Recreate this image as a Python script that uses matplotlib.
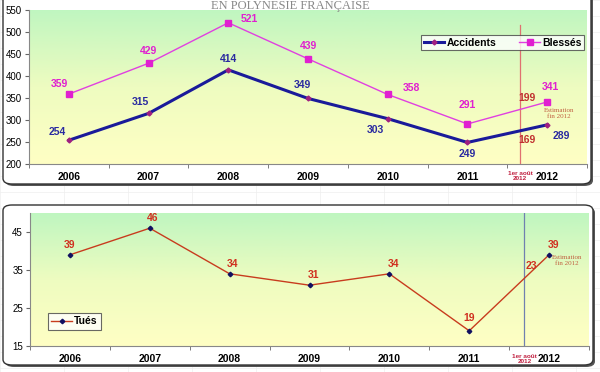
import numpy as np
import matplotlib
matplotlib.use("Agg")
import matplotlib.pyplot as plt
from matplotlib.patches import FancyBboxPatch
from matplotlib.colors import LinearSegmentedColormap

years = ["2006", "2007", "2008", "2009", "2010", "2011", "2012"]
accidents = [254, 315, 414, 349, 303, 249, 289]
blesses = [359, 429, 521, 439, 358, 291, 341]
tues = [39, 46, 34, 31, 34, 19, 39]
aout_accidents = 169
aout_blesses = 199
aout_tues = 23
aout_pos = 5.66

W, H = 600, 372
fig = plt.figure(figsize=(6, 3.72), dpi=100)
fig.patch.set_facecolor("white")

def fx(px):
    return px / W

def fy(py):
    return 1 - py / H

# faint spreadsheet grid in background
for gx in np.arange(0, W, 64):
    fig.add_artist(plt.Line2D([fx(gx), fx(gx)], [0, 1], color="#eeeeee", lw=0.5, zorder=0))
for gy in np.arange(0, H, 16):
    fig.add_artist(plt.Line2D([0, 1], [fy(gy), fy(gy)], color="#eeeeee", lw=0.5, zorder=0))

def frame(x0, y0, x1, y1):
    sh = FancyBboxPatch((fx(x0 + 2), fy(y1 + 2)), fx(x1 - x0), (y1 - y0) / H,
                        boxstyle="round,pad=0,rounding_size=0.015", transform=fig.transFigure,
                        facecolor="#555555", edgecolor="none", zorder=1)
    fig.add_artist(sh)
    p = FancyBboxPatch((fx(x0), fy(y1)), fx(x1 - x0), (y1 - y0) / H,
                       boxstyle="round,pad=0,rounding_size=0.015", transform=fig.transFigure,
                       facecolor="white", edgecolor="#333333", lw=1.0, zorder=2)
    fig.add_artist(p)

frame(3, -20, 591, 184)
frame(3, 205, 593, 365)

cmap = LinearSegmentedColormap.from_list("bg", ["#ffffc4", "#eefcc0", "#bff6c0"])
grad = np.linspace(0, 1, 256).reshape(-1, 1)
FS = 7.5

def setup_axes(rect, ylim, yticks):
    ax = fig.add_axes(rect, zorder=3)
    ax.imshow(grad, extent=[0, 1, 0, 1], transform=ax.transAxes, cmap=cmap,
              origin="lower", aspect="auto", zorder=0)
    ax.set_xlim(-0.5, 6.5)
    ax.set_ylim(*ylim)
    ax.set_yticks(yticks)
    ax.set_yticklabels([str(t) for t in yticks], fontsize=7, family="Liberation Sans")
    ax.set_xticks(range(7))
    ax.set_xticklabels(years, fontsize=7.5, fontweight="bold", family="Liberation Sans")
    ax.tick_params(axis="x", which="major", length=0, pad=6)
    ax.set_xticks(np.arange(-0.5, 7, 1), minor=True)
    ax.tick_params(axis="x", which="minor", length=3, color="#666666")
    ax.tick_params(axis="y", length=3, color="#666666", pad=2)
    for s in ["top", "right"]:
        ax.spines[s].set_visible(False)
    ax.spines["left"].set_color("#888888")
    ax.spines["bottom"].set_color("#888888")
    return ax

x = np.arange(7)

# ---------- top chart ----------
ax1 = setup_axes([fx(29), fy(164), fx(558), 154 / H], (200, 550), range(200, 551, 50))
ax1.plot(x, blesses, color="#e040e0", lw=1.0, marker="s", ms=3.8, mfc="#e020d0", mec="#e020d0",
         label="Blessés", zorder=4)
ax1.plot(x, accidents, color="#1a1a9a", lw=2.2, marker="D", ms=2.5, mfc="#a02080", mec="#a02080",
         label="Accidents", zorder=5)
ax1.axvline(aout_pos, ymin=0, ymax=(515 - 200) / 350, color="#e07070", lw=0.9, zorder=3)

bl_off = [(-7, 7), (0, 9), (15, 3), (0, 9), (17, 5), (0, 14), (2, 11)]
ac_off = [(-8, 6), (-6, 8), (0, 8), (-4, 10), (-9, -8), (0, -8), (10, -8)]
for i in range(7):
    ax1.annotate(str(blesses[i]), (x[i], blesses[i]), xytext=bl_off[i], textcoords="offset points",
                 ha="center", va="center", fontsize=FS, fontweight="bold", color="#e020d0",
                 family="Liberation Sans", zorder=6)
    ax1.annotate(str(accidents[i]), (x[i], accidents[i]), xytext=ac_off[i], textcoords="offset points",
                 ha="center", va="center", fontsize=FS, fontweight="bold", color="#2a2aa0",
                 family="Liberation Sans", zorder=6)
ax1.text(aout_pos + 0.09, 350, str(aout_blesses), ha="center", va="center", fontsize=FS,
         fontweight="bold", color="#c03030", family="Liberation Sans", zorder=6)
ax1.text(aout_pos + 0.09, 255, str(aout_accidents), ha="center", va="center", fontsize=FS,
         fontweight="bold", color="#c03030", family="Liberation Sans", zorder=6)
ax1.text(6.15, 314, "Estimation\nfin 2012", ha="center", va="center", fontsize=5,
         color="#c06040", family="Liberation Serif", linespacing=1.3, zorder=6)
ax1.text(aout_pos, -0.078, "1er août\n2012", transform=ax1.get_xaxis_transform(),
         ha="center", va="center", fontsize=4.6, fontweight="bold",
         color="#c02040", family="Liberation Sans", linespacing=1.05, clip_on=False, zorder=6)

h, l = ax1.get_legend_handles_labels()
leg1 = ax1.legend([h[1], h[0]], [l[1], l[0]], loc="upper left", bbox_to_anchor=(0.693, 0.87),
                  ncol=2, frameon=True, fancybox=False, edgecolor="#444444",
                  borderpad=0.25, handlelength=2.0, columnspacing=2.2, handletextpad=0.2,
                  prop={"family": "Liberation Sans", "weight": "bold", "size": 7.5})
leg1.get_frame().set_linewidth(0.8)

fig.text(fx(290), fy(9), "EN POLYNESIE FRANÇAISE", ha="center", va="baseline", fontsize=9,
         color="#888888", family="Liberation Serif", zorder=10)

# ---------- bottom chart ----------
ax2 = setup_axes([fx(30), fy(346), fx(559), 133 / H], (15, 50), [15, 25, 35, 45])
ax2.plot(x, tues, color="#c83c1e", lw=1.0, marker="D", ms=2.3, mfc="#101060", mec="#101060",
         label="Tués", zorder=4)
ax2.axvline(aout_pos + 0.03, color="#7080b0", lw=0.9, zorder=3)
tu_off = [(0, 7), (2, 7), (2, 7), (3, 7), (3, 7), (0, 9), (3, 7)]
for i in range(7):
    ax2.annotate(str(tues[i]), (x[i], tues[i]), xytext=tu_off[i], textcoords="offset points",
                 ha="center", va="center", fontsize=FS, fontweight="bold", color="#d03020",
                 family="Liberation Sans", zorder=6)
ax2.text(aout_pos + 0.12, 36.0, str(aout_tues), ha="center", va="center", fontsize=FS,
         fontweight="bold", color="#d03020", family="Liberation Sans", zorder=6)
ax2.text(6.22, 37.4, "Estimation\nfin 2012", ha="center", va="center", fontsize=5,
         color="#c06040", family="Liberation Serif", linespacing=1.3, zorder=6)
ax2.text(aout_pos + 0.03, -0.1, "1er août\n2012", transform=ax2.get_xaxis_transform(),
         ha="center", va="center", fontsize=4.6, fontweight="bold",
         color="#c02040", family="Liberation Sans", linespacing=1.05, clip_on=False, zorder=6)
leg2 = ax2.legend(loc="upper left", bbox_to_anchor=(0.022, 0.29), frameon=True,
                  fancybox=False, edgecolor="#444444", borderpad=0.35, handlelength=2.0,
                  handletextpad=0.2, prop={"family": "Liberation Sans", "weight": "bold", "size": 7.5})
leg2.get_frame().set_linewidth(0.8)

fig.savefig("out.png", dpi=100)
